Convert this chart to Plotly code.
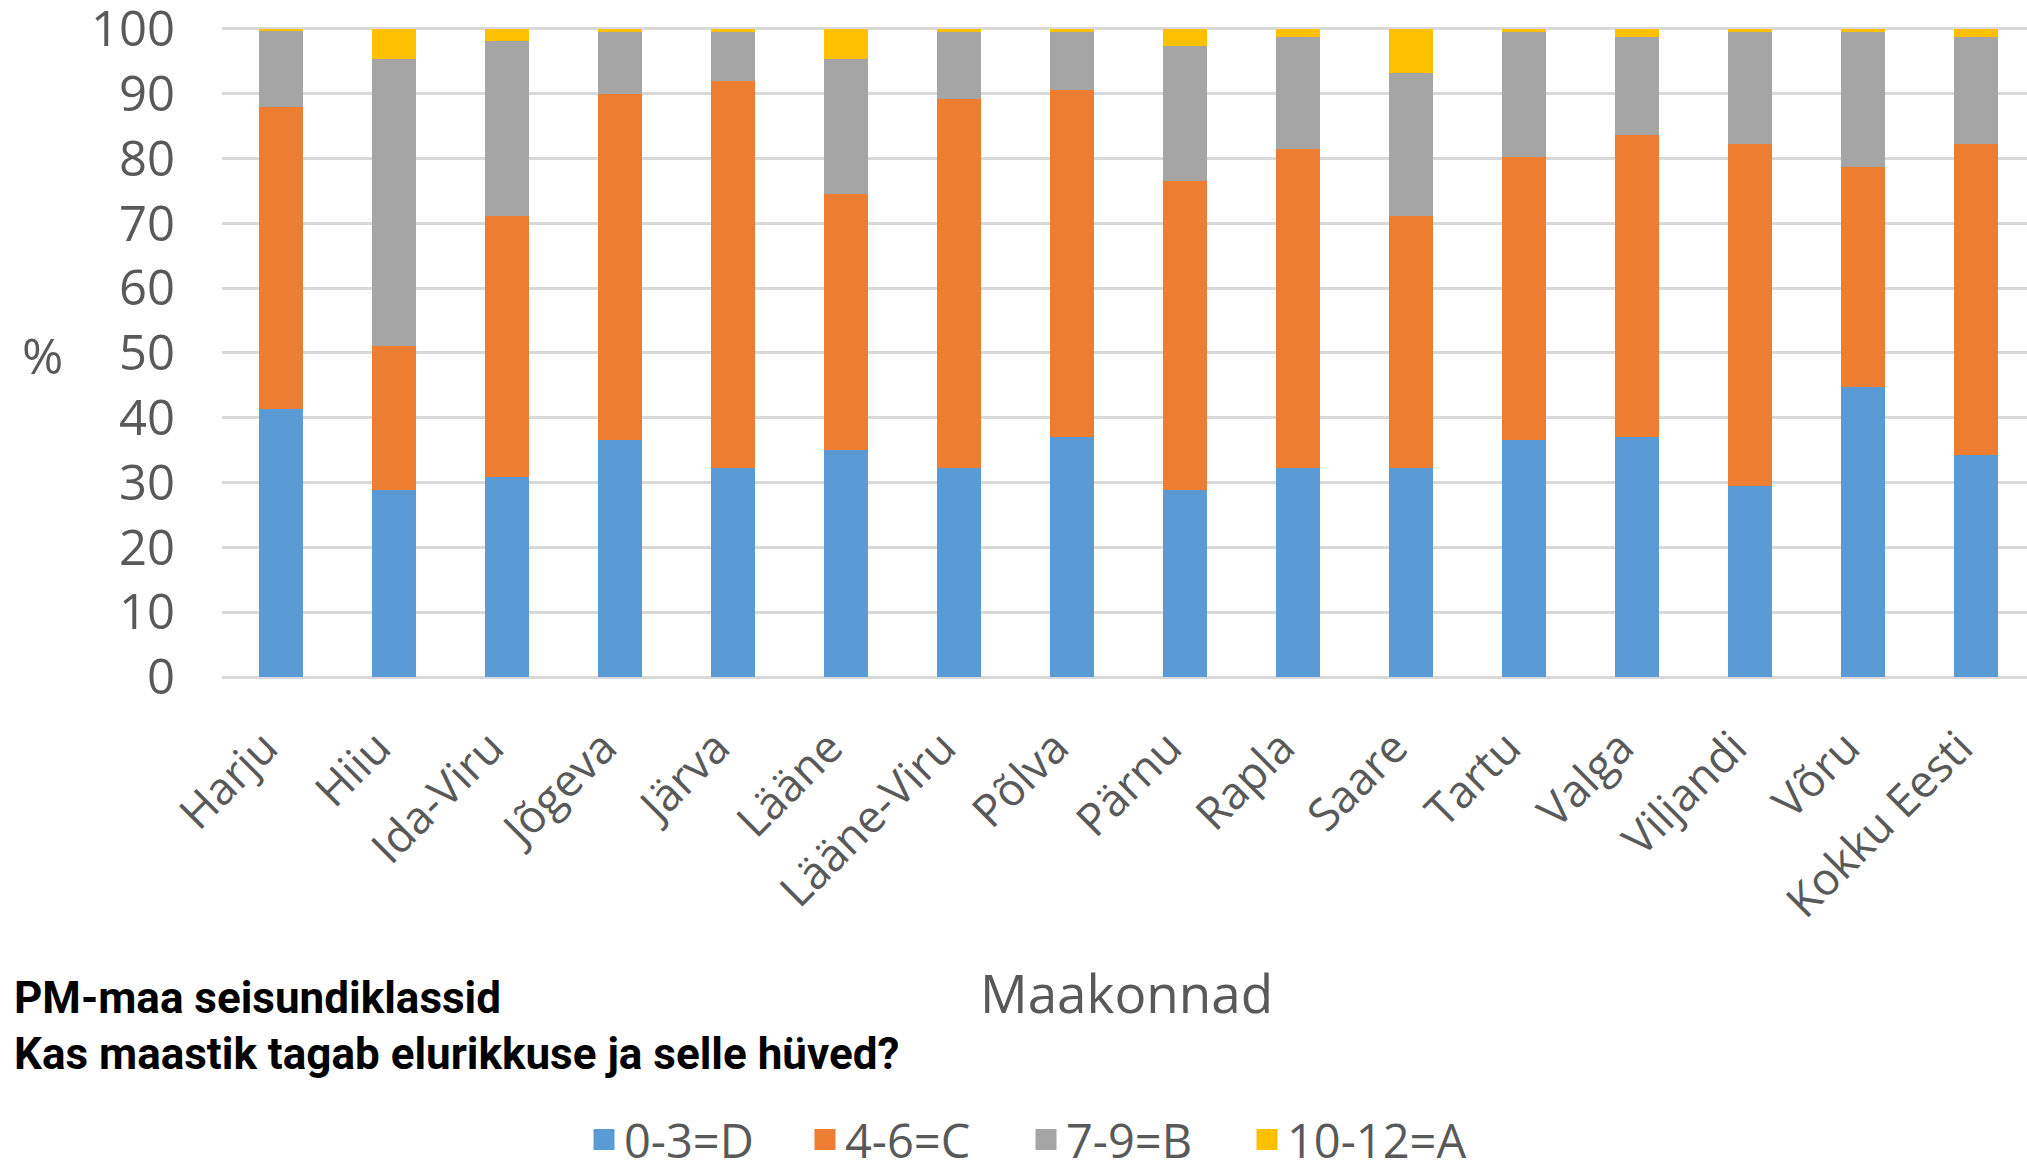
import plotly.graph_objects as go

W, H = 2027, 1172
ML, MR, MT, MB = 222, 0, 27, 495

counties = [
    "Harju", "Hiiu", "Ida-Viru", "Jõgeva", "Järva", "Lääne", "Lääne-Viru",
    "Põlva", "Pärnu", "Rapla", "Saare", "Tartu", "Valga", "Viljandi",
    "Võru", "Kokku Eesti",
]

# share of area (%) by condition class
class_d = [41.3, 28.9, 30.9, 36.5, 32.2, 35.1, 32.2, 37.0, 28.9, 32.2, 32.2, 36.5, 37.0, 29.4, 44.7, 34.3]
class_c = [46.6, 22.1, 40.2, 53.4, 59.8, 39.5, 57.0, 53.6, 47.7, 49.3, 38.9, 43.8, 46.7, 52.9, 34.0, 48.0]
class_b = [11.8, 44.4, 27.0, 9.7, 7.6, 20.8, 10.4, 9.0, 20.7, 17.2, 22.1, 19.3, 15.0, 17.3, 20.9, 16.4]
class_a = [0.3, 4.6, 1.9, 0.4, 0.4, 4.6, 0.4, 0.4, 2.7, 1.3, 6.8, 0.4, 1.3, 0.4, 0.4, 1.3]

series_names = ["0-3=D", "4-6=C", "7-9=B", "10-12=A"]
series_colors = ["#5B9BD5", "#ED7D31", "#A5A5A5", "#FFC000"]

y_ticks = list(range(0, 101, 10))

TEXT_GRAY = "#595959"
FONT = "Open Sans, Noto Sans, sans-serif"
BOLD_FONT = "Roboto, sans-serif"


def paper_x(px):
    return (px - ML) / (W - ML - MR)


def paper_y(py):
    return (H - MB - py) / (H - MT - MB)


fig = go.Figure()
for name, vals, color in zip(series_names, [class_d, class_c, class_b, class_a], series_colors):
    fig.add_trace(
        go.Bar(
            x=counties, y=vals, name=name, legendgroup=name, showlegend=False,
            marker=dict(color=color, line=dict(width=0)),
        )
    )
    # legend-only entry so the key squares can be drawn bigger than the bar default
    fig.add_trace(
        go.Scatter(
            x=[None], y=[None], mode="markers", name=name, legendgroup=name,
            marker=dict(symbol="square", size=16, color=color, line=dict(width=5, color=color)),
        )
    )

fig.update_layout(
    width=W,
    height=H,
    margin=dict(l=ML, r=MR, t=MT, b=MB, pad=0, autoexpand=False),
    barmode="stack",
    bargap=0.61,
    plot_bgcolor="white",
    paper_bgcolor="white",
    font=dict(family=FONT, color=TEXT_GRAY, size=46),
    legend=dict(
        orientation="h",
        xanchor="center",
        x=paper_x(1026),
        yanchor="middle",
        y=paper_y(1140),
        font=dict(size=47, color=TEXT_GRAY),
        traceorder="normal",
        itemwidth=30,
        entrywidth=176,
    ),
)

fig.update_xaxes(
    range=[-0.518, 15.455],
    automargin=False,
    tickangle=-45,
    tickfont=dict(size=45, color=TEXT_GRAY),
    showgrid=False,
    showline=False,
    zeroline=False,
    ticks="",
    ticklabelstandoff=34,
    ticklabelshift=-16,
)

fig.update_yaxes(
    range=[0, 100.3],
    automargin=False,
    tickvals=y_ticks,
    tickfont=dict(size=49, color=TEXT_GRAY),
    ticklabeloverflow="allow",
    showgrid=True,
    gridcolor="#D9D9D9",
    gridwidth=3,
    zeroline=True,
    zerolinecolor="#D9D9D9",
    zerolinewidth=3,
    showline=False,
    ticks="",
    ticklabelstandoff=46,
)

annotations = [
    dict(text="%", x=paper_x(42), y=paper_y(355), font=dict(size=50, color=TEXT_GRAY)),
    dict(text="Maakonnad", x=paper_x(1126), y=paper_y(992), font=dict(size=53, color=TEXT_GRAY)),
    dict(
        text="<b>PM-maa seisundiklassid</b>", x=paper_x(12), y=paper_y(998), xanchor="left",
        font=dict(size=44, color="black", family=BOLD_FONT),
    ),
    dict(
        text="<b>Kas maastik tagab elurikkuse ja selle hüved?</b>", x=paper_x(12), y=paper_y(1054),
        xanchor="left", font=dict(size=44, color="black", family=BOLD_FONT),
    ),
]
for a in annotations:
    a.setdefault("xanchor", "center")
    fig.add_annotation(xref="paper", yref="paper", yanchor="middle", showarrow=False, **a)

# the page body has an 8px default margin; drop it so the figure fills the window exactly
fig.write_html(
    "out.html",
    config={"displayModeBar": False},
    post_script="document.body.style.margin = '0';",
)
